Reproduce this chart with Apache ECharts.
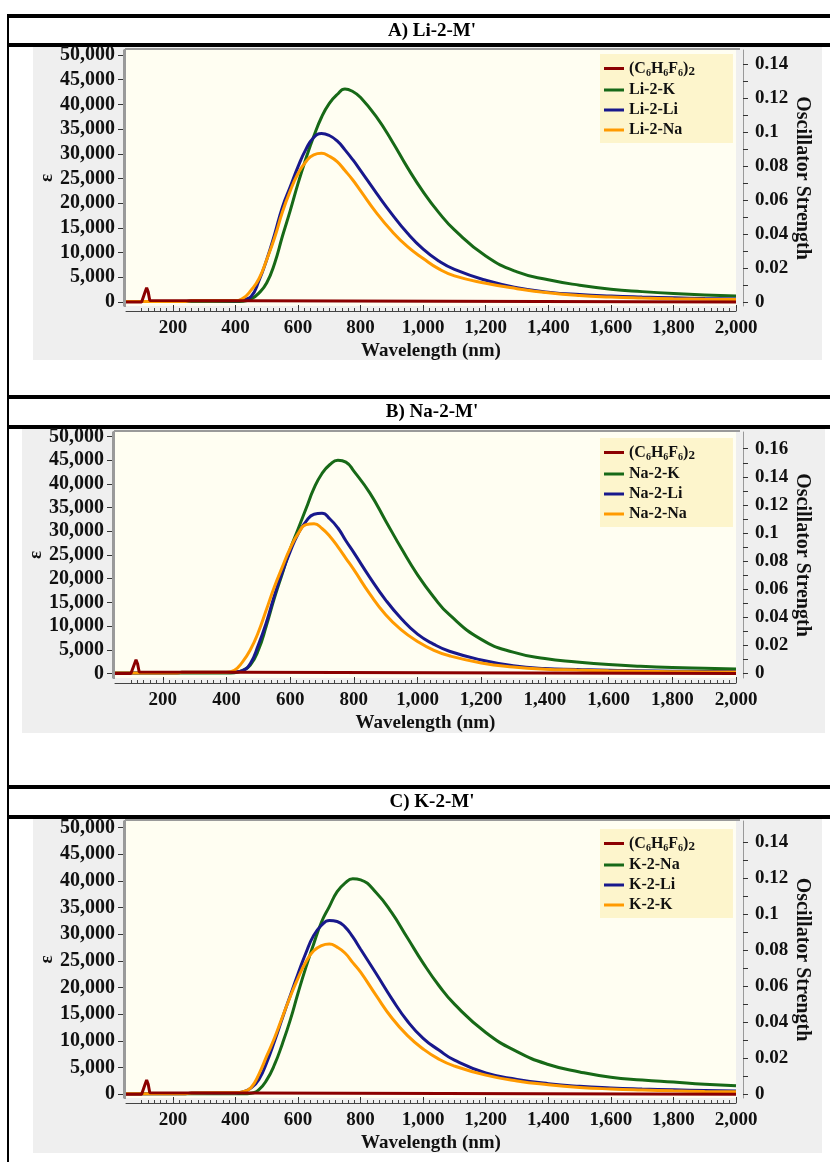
<!DOCTYPE html>
<html>
<head>
<meta charset="utf-8">
<script src="https://cdn.jsdelivr.net/npm/echarts@6/dist/echarts.min.js"></script>
<style>
html, body { margin: 0; padding: 0; background: #fff; }
#chart { width: 830px; height: 1162px; }
</style>
</head>
<body>
<div id="chart"></div>
<script>
// wavelength grid (nm) for the broad bands
var wl = [50, 240, 260, 400, 425, 450, 475, 500, 525, 550, 575, 600, 625, 650, 675, 700, 725, 750, 775, 800,
          850, 900, 950, 1000, 1050, 1100, 1200, 1300, 1400, 1500, 1600, 1700, 1800, 1900, 2000];

// (C6H6F6)2 narrow band
var wlDimer = [50, 100, 106, 111, 116, 121, 126, 132, 2000];
var dimerA = [0, 0, 300, 2000, 2900, 2000, 300, 0, 0];
var dimerB = [0, 0, 300, 2000, 2900, 2000, 300, 0, 0];
var dimerC = [0, 0, 300, 1900, 2700, 1900, 300, 0, 0];

// A) Li-2-M'
var liK  = [100, 100, 100, 100, 150, 600, 1800, 3900, 7800, 13300, 18500, 24000, 29000, 33500, 37400, 40200, 42000, 43100, 42600, 41400,
            37500, 32600, 27200, 22300, 18100, 14600, 9300, 6100, 4500, 3400, 2600, 2100, 1700, 1400, 1200];
var liLi = [100, 100, 250, 250, 500, 1100, 4300, 8600, 13700, 19200, 23300, 27400, 30900, 33300, 34100, 33700, 32600, 30800, 28800, 26600,
            22100, 17800, 13900, 10700, 8300, 6600, 4400, 2900, 2000, 1500, 1200, 1000, 850, 700, 600];
var liNa = [100, 100, 250, 300, 800, 2400, 4700, 8600, 13000, 18200, 22500, 26000, 28400, 29800, 30100, 29500, 28400, 26600, 24700, 22500,
            18100, 14300, 11200, 8800, 6700, 5300, 3800, 2700, 1850, 1300, 1000, 800, 650, 550, 500];

// B) Na-2-M'
var naK  = [100, 100, 100, 100, 150, 600, 1800, 4900, 10000, 15800, 21000, 26200, 30500, 34800, 39100, 42200, 44100, 45000, 44600, 42700,
            38100, 32200, 26300, 20800, 16200, 12400, 7200, 4500, 3150, 2450, 1900, 1520, 1250, 1090, 950];
var naLi = [100, 100, 250, 250, 330, 620, 2100, 6000, 10700, 16300, 21300, 25700, 29500, 32100, 33600, 33800, 32600, 30700, 28000, 25500,
            20300, 15500, 11500, 8300, 6200, 4700, 2850, 1650, 1050, 850, 670, 580, 480, 440, 400];
var naNa = [100, 100, 250, 280, 700, 2400, 5000, 8700, 13400, 18200, 22400, 26400, 29500, 31400, 31600, 30600, 28900, 26700, 24300, 21900,
            16800, 12400, 9150, 6760, 4950, 3730, 2230, 1380, 900, 720, 580, 480, 390, 340, 300];

// C) K-2-M'
var kNa = [100, 100, 100, 100, 100, 200, 900, 2700, 5600, 9500, 13900, 19000, 23800, 28200, 32300, 35200, 38000, 39600, 40400, 40200,
           37800, 34000, 29300, 24600, 20400, 16900, 11600, 8000, 5600, 4200, 3200, 2700, 2300, 1900, 1600];
var kLi = [100, 100, 250, 250, 500, 1200, 2800, 6000, 10000, 14300, 18500, 22600, 26500, 29800, 31700, 32600, 32400, 31400, 29500, 27200,
           22600, 17900, 13700, 10500, 8300, 6400, 4000, 2800, 2000, 1500, 1200, 1000, 850, 700, 600];
var kK  = [100, 100, 250, 300, 500, 1300, 3800, 7200, 10600, 14500, 18300, 21800, 24800, 26900, 27900, 28200, 27600, 26500, 24700, 22900,
           18500, 14300, 11000, 8500, 6600, 5300, 3600, 2500, 1800, 1300, 1000, 800, 650, 550, 500];

// axis ticks and labels
var wlLabels = [200, 400, 600, 800, 1000, 1200, 1400, 1600, 1800, 2000];
var wlMinor = [];
for (var w = 100; w <= 2000; w += 20) wlMinor.push(w);
var epsLabels = [0, 5000, 10000, 15000, 20000, 25000, 30000, 35000, 40000, 45000, 50000];
var oscLabels14 = [0, 0.02, 0.04, 0.06, 0.08, 0.1, 0.12, 0.14];
var oscTicks14 = [0, 0.01, 0.02, 0.03, 0.04, 0.05, 0.06, 0.07, 0.08, 0.09, 0.1, 0.11, 0.12, 0.13, 0.14];
var oscLabels16 = [0, 0.02, 0.04, 0.06, 0.08, 0.1, 0.12, 0.14, 0.16];
var oscTicks16 = [0, 0.01, 0.02, 0.03, 0.04, 0.05, 0.06, 0.07, 0.08, 0.09, 0.1, 0.11, 0.12, 0.13, 0.14, 0.15, 0.16];

var dimerName = '(C6H6F6)2';

var panels = [
    {
        title: "A) Li-2-M'", lines: [14, 43], titleY: 31, back: [33, 47, 789, 313],
        grid: {left: 126, top: 50, width: 610, height: 256},
        eps: [-810, 51010], osc: [-0.00235, 0.1482], oscLabels: oscLabels14, oscTicks: oscTicks14,
        legendTop: 54,
        names: [dimerName, 'Li-2-K', 'Li-2-Li', 'Li-2-Na'],
        dimer: dimerA, bands: [liK, liLi, liNa]
    },
    {
        title: "B) Na-2-M'", lines: [395, 425], titleY: 412, back: [22, 429, 803, 304],
        grid: {left: 115, top: 432, width: 621, height: 246},
        eps: [-950, 50956], osc: [-0.0032, 0.1719], oscLabels: oscLabels16, oscTicks: oscTicks16,
        legendTop: 438,
        names: [dimerName, 'Na-2-K', 'Na-2-Li', 'Na-2-Na'],
        dimer: dimerB, bands: [naK, naLi, naNa]
    },
    {
        title: "C) K-2-M'", lines: [785, 815], titleY: 802, back: [33, 819, 789, 334],
        grid: {left: 126, top: 821, width: 610, height: 277},
        eps: [-690, 51244], osc: [-0.00206, 0.1518], oscLabels: oscLabels14, oscTicks: oscTicks14,
        legendTop: 829,
        names: [dimerName, 'K-2-Na', 'K-2-Li', 'K-2-K'],
        dimer: dimerC, bands: [kNa, kLi, kK]
    }
];

var serif = '"Liberation Serif", "Times New Roman", serif';
var lineColors = ['#8b0000', '#176917', '#18188c', '#ff9a00'];

function pairs(xs, ys) {
    return xs.map(function (x, i) { return [x, ys[i]]; });
}

function thousands(v) {
    return String(v).replace(/\B(?=(\d{3})+(?!\d))/g, ',');
}

function font(size) {
    return {fontFamily: serif, fontWeight: 'bold', fontSize: size, color: '#111'};
}

var option = {
    backgroundColor: '#fff',
    animation: false,
    grid: [], xAxis: [], yAxis: [], series: [], legend: [],
    graphic: {elements: []}
};

var g = option.graphic.elements;
// left frame rule
g.push({type: 'rect', shape: {x: 7, y: 14, width: 2, height: 1148}, style: {fill: '#000'}, z: -5});

panels.forEach(function (p, k) {
    var gr = p.grid;
    // grey panel background and title band
    g.push({type: 'rect', shape: {x: p.back[0], y: p.back[1], width: p.back[2], height: p.back[3]}, style: {fill: '#efefef'}, z: -10});
    g.push({type: 'rect', shape: {x: 7, y: p.lines[0], width: 823, height: 4}, style: {fill: '#000'}, z: -5});
    g.push({type: 'rect', shape: {x: 7, y: p.lines[1], width: 823, height: 4}, style: {fill: '#000'}, z: -5});
    g.push({type: 'text', x: 432, y: p.titleY, z: 5,
        style: {text: p.title, font: 'bold 19px ' + serif, fill: '#000', align: 'center', verticalAlign: 'middle'}});
    // inset frame of the plot area
    g.push({type: 'line', shape: {x1: gr.left - 1, y1: gr.top - 1, x2: gr.left + gr.width + 4, y2: gr.top - 1},
        style: {stroke: '#9a9a9a', lineWidth: 2}, z: 1});
    g.push({type: 'line', shape: {x1: gr.left - 1, y1: gr.top - 1, x2: gr.left - 1, y2: gr.top + gr.height + 1},
        style: {stroke: '#9a9a9a', lineWidth: 2}, z: 1});

    option.grid.push({left: gr.left, top: gr.top, width: gr.width, height: gr.height,
        show: true, backgroundColor: '#fffef2', borderWidth: 0});

    // main wavelength axis (labels + major ticks)
    option.xAxis.push({
        type: 'value', gridIndex: k, min: 50, max: 2000, position: 'bottom', offset: 5,
        name: 'Wavelength (nm)', nameLocation: 'middle', nameGap: 31,
        nameTextStyle: font(19),
        axisLine: {show: false, onZero: false},
        axisTick: {show: true, inside: true, length: 6, customValues: wlLabels, lineStyle: {color: '#333'}},
        axisLabel: Object.assign({customValues: wlLabels, margin: 8, formatter: thousands}, font(19)),
        splitLine: {show: false}
    });
    // minor ticks
    option.xAxis.push({
        type: 'value', gridIndex: k, min: 50, max: 2000, position: 'bottom', offset: 5,
        axisLine: {show: true, onZero: false, lineStyle: {color: '#444', width: 1}},
        axisTick: {show: true, inside: true, length: 3, customValues: wlMinor, lineStyle: {color: '#444'}},
        axisLabel: {show: false},
        splitLine: {show: false}
    });

    option.yAxis.push({
        type: 'value', gridIndex: k, min: p.eps[0], max: p.eps[1], position: 'left', offset: 3,
        name: 'ε', nameLocation: 'middle', nameGap: 66, nameRotate: 90, nameMoveOverlap: false,
        nameTextStyle: font(19),
        axisLine: {show: true, onZero: false, lineStyle: {color: '#999'}},
        axisTick: {show: true, length: 5, customValues: epsLabels, lineStyle: {color: '#333'}},
        axisLabel: Object.assign({customValues: epsLabels, margin: 8, formatter: thousands}, font(20)),
        splitLine: {show: false}
    });
    option.yAxis.push({
        type: 'value', gridIndex: k, min: p.osc[0], max: p.osc[1], position: 'right', offset: 7,
        name: 'Oscillator Strength', nameLocation: 'middle', nameGap: 49, nameRotate: -90, nameMoveOverlap: false,
        nameTextStyle: font(20),
        axisLine: {show: true, onZero: false, lineStyle: {color: '#999'}},
        axisTick: {show: true, length: 5, customValues: p.oscTicks, lineStyle: {color: '#333'}},
        axisLabel: Object.assign({customValues: p.oscLabels, margin: 12}, font(19)),
        splitLine: {show: false}
    });

    var curves = [pairs(wlDimer, p.dimer)].concat(p.bands.map(function (b) { return pairs(wl, b); }));
    curves.forEach(function (data, j) {
        option.series.push({
            type: 'line', name: p.names[j], xAxisIndex: 2 * k, yAxisIndex: 2 * k,
            data: data, showSymbol: false, smooth: j === 0 ? false : 0.5,
            color: lineColors[j], lineStyle: {width: 3, color: lineColors[j]},
            z: j === 0 ? 3 : 2
        });
    });

    option.legend.push({
        left: 600, top: p.legendTop, orient: 'vertical',
        backgroundColor: '#fdf5cc', padding: [5, 38, 5, 4], itemGap: 4,
        icon: 'rect', itemWidth: 20, itemHeight: 3,
        data: p.names,
        formatter: function (name) {
            return name === dimerName ? '(C{s|6}H{s|6}F{s|6}){t|2}' : name;
        },
        textStyle: {
            fontFamily: serif, fontWeight: 'bold', fontSize: 16, color: '#111', lineHeight: 16,
            rich: {
                s: {fontFamily: serif, fontWeight: 'bold', fontSize: 10, color: '#111', verticalAlign: 'bottom', lineHeight: 15},
                t: {fontFamily: serif, fontWeight: 'bold', fontSize: 13, color: '#111', verticalAlign: 'bottom', lineHeight: 19}
            }
        }
    });
});

var chart = echarts.init(document.getElementById('chart'));
chart.setOption(option);
</script>
</body>
</html>
